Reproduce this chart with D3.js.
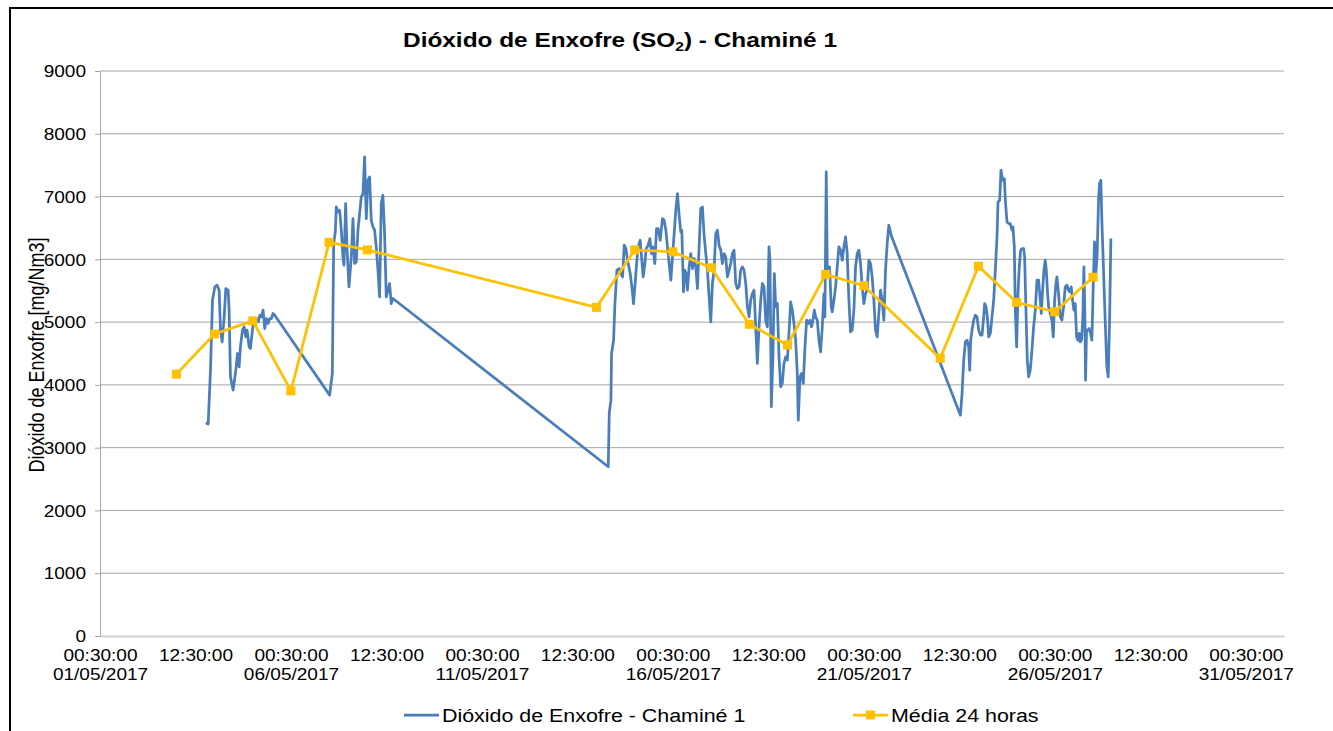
<!DOCTYPE html>
<html>
<head>
<meta charset="utf-8">
<script src="https://cdn.jsdelivr.net/npm/d3@7"></script>
<style>
	html, body { margin: 0; padding: 0; background: #fff; }
	svg { display: block; font-family: "Liberation Sans", Arial, sans-serif; }
</style>
</head>
<body>
<svg id="chart" width="1333" height="731"></svg>
<script>

// Hourly SO2 readings: [days after 01/05/2017 00:30, mg/Nm3]
var so2Readings = [
	[2.771,3396],[2.832,3375],[2.893,4235],[2.945,5349],[3.007,5561],[3.067,5588],[3.120,5508],[3.155,4872],
	[3.198,4686],[3.251,5084],[3.294,5535],[3.355,5508],[3.381,5190],[3.416,4129],[3.486,3916],[3.556,4235],
	[3.599,4500],[3.643,4288],[3.677,4606],[3.730,4872],[3.774,4925],[3.817,4766],[3.852,4872],[3.904,4606],
	[3.939,4580],[3.991,4872],[4.026,5031],[4.096,5057],[4.148,5004],[4.183,5110],[4.226,5084],[4.270,5190],
	[4.314,4898],[4.357,5057],[4.401,4977],[4.444,5057],[4.488,5057],[4.532,5137],[4.575,5110],

	[6.013,3837],[6.083,4182],[6.118,6251],[6.161,6437],[6.187,6835],[6.231,6755],[6.275,6782],[6.318,6464],
	[6.362,6039],[6.388,5906],[6.431,6888],[6.466,6198],[6.519,5561],[6.580,6039],[6.623,6649],[6.667,5933],
	[6.710,5959],[6.754,6464],[6.797,6729],[6.841,6994],[6.885,7047],[6.928,7631],[6.972,6649],[7.015,7260],
	[7.059,7313],[7.102,6623],[7.146,6517],[7.190,6464],[7.233,6198],[7.277,5827],[7.320,5402],[7.364,6888],
	[7.407,7021],[7.451,6411],[7.495,5402],[7.538,5508],[7.582,5615],[7.625,5296],[7.669,5376],

	[13.307,2696],[13.333,3545],[13.377,3757],[13.394,4500],[13.447,4712],[13.482,5296],[13.534,5827],[13.595,5853],
	[13.638,5774],[13.682,5720],[13.725,6225],[13.769,6172],[13.812,5986],[13.882,5774],[13.926,5561],[13.969,5296],
	[14.004,5561],[14.057,5986],[14.092,6198],[14.144,6304],[14.179,6039],[14.222,5720],[14.266,5933],[14.301,6172],
	[14.353,6225],[14.397,6331],[14.440,6092],[14.475,6198],[14.527,5933],[14.571,6490],[14.614,6490],[14.667,6304],
	[14.727,6649],[14.771,6623],[14.815,6464],[14.858,6198],[14.902,5933],[14.946,5668],[14.989,6039],[15.033,6411],
	[15.076,6782],[15.120,7047],[15.163,6702],[15.207,6437],[15.233,6464],[15.277,5482],[15.311,5827],[15.346,5774],
	[15.381,5508],[15.425,5880],[15.468,6092],[15.512,5853],[15.556,6013],[15.599,5880],[15.643,5535],[15.686,6198],
	[15.730,6809],[15.773,6835],[15.817,6384],[15.861,6092],[15.904,5827],[15.948,5402],[15.991,5004],[16.035,5615],
	[16.078,5827],[16.122,6411],[16.166,6464],[16.209,6225],[16.253,6145],[16.296,5933],[16.340,6092],[16.383,6039],
	[16.427,5720],[16.471,5827],[16.514,5933],[16.558,6092],[16.601,6145],[16.645,5615],[16.689,5535],[16.732,5561],
	[16.776,5827],[16.820,5880],[16.863,5827],[16.907,5615],[16.950,5243],[16.994,5084],[17.037,5349],[17.081,5455],
	[17.124,5508],[17.168,4925],[17.211,4341],[17.255,4925],[17.299,5349],[17.342,5615],[17.386,5561],[17.429,5031],
	[17.473,4925],[17.516,6198],[17.542,5986],[17.577,3651],[17.621,4500],[17.656,5774],[17.691,5243],[17.734,5296],
	[17.778,4447],[17.821,3969],[17.865,4023],[17.908,4341],[17.952,4447],[17.996,4394],[18.039,4819],[18.083,5322],
	[18.126,5190],[18.170,4978],[18.214,4712],[18.257,4182],[18.283,3439],[18.327,4129],[18.370,4182],[18.414,4023],
	[18.458,4606],[18.501,5031],[18.545,4978],[18.588,5031],[18.632,4925],[18.667,5031],[18.702,5190],[18.736,5084],
	[18.780,5031],[18.824,4712],[18.867,4527],[18.911,4925],[18.954,5455],[18.980,5084],[19.015,7392],[19.041,5880],
	[19.067,5720],[19.102,5880],[19.146,5243],[19.172,5163],[19.216,5349],[19.259,5561],[19.303,5880],[19.346,6198],
	[19.390,6145],[19.434,5986],[19.477,6198],[19.521,6357],[19.564,6092],[19.608,5349],[19.651,4845],[19.695,4872],
	[19.739,5190],[19.782,5880],[19.826,6092],[19.869,6145],[19.913,5933],[19.956,5561],[20.000,5296],[20.044,5455],
	[20.087,5508],[20.131,5986],[20.174,5933],[20.218,5720],[20.261,5349],[20.305,4872],[20.349,4766],[20.392,5137],
	[20.436,5508],[20.479,5349],[20.523,5031],[20.567,5827],[20.610,6251],[20.654,6543],[20.723,6368],

	[22.527,3518],[22.571,3863],[22.614,4394],[22.658,4686],[22.702,4712],[22.745,4606],[22.771,4235],[22.797,4712],
	[22.832,4872],[22.876,5031],[22.919,5110],[22.963,5084],[23.007,4872],[23.050,4792],[23.094,4792],[23.137,5084],
	[23.163,5296],[23.198,5243],[23.233,5084],[23.268,4766],[23.312,4819],[23.355,5084],[23.399,5349],[23.442,5827],
	[23.486,6357],[23.512,6915],[23.556,6941],[23.590,7419],[23.634,7260],[23.678,7286],[23.704,6941],[23.747,6596],
	[23.791,6570],[23.834,6570],[23.878,6464],[23.904,6517],[23.939,6198],[23.965,5190],[24.000,4606],[24.035,5455],
	[24.069,5880],[24.104,6145],[24.139,6172],[24.183,6172],[24.209,6039],[24.244,5190],[24.279,4394],[24.314,4129],
	[24.357,4235],[24.401,4553],[24.444,4925],[24.488,5190],[24.532,5668],[24.575,5668],[24.619,5349],[24.645,5137],
	[24.680,5508],[24.715,5827],[24.749,5986],[24.776,5827],[24.810,5455],[24.837,5243],[24.880,5137],[24.924,5031],
	[24.959,4766],[24.994,5349],[25.028,5615],[25.054,5720],[25.098,5455],[25.142,5084],[25.185,5031],[25.229,5243],
	[25.272,5561],[25.316,5588],[25.359,5508],[25.386,5482],[25.429,5561],[25.464,5349],[25.499,5190],[25.534,5296],
	[25.569,4766],[25.604,4712],[25.638,4819],[25.665,4686],[25.699,4712],[25.734,5084],[25.760,5880],[25.786,5137],
	[25.804,4076],[25.830,4872],[25.865,4872],[25.900,4898],[25.935,4819],[25.970,4712],[26.004,5561],[26.039,6278],
	[26.074,5774],[26.109,6092],[26.144,6941],[26.170,7206],[26.205,7260],[26.231,6623],[26.275,5827],[26.318,5031],
	[26.362,4288],[26.397,4129],[26.432,4978],[26.467,6331]
];

// 24 hour averages
var avgDates = [
	"03/05/2017", "04/05/2017", "05/05/2017", "06/05/2017", "07/05/2017", "08/05/2017",
	"14/05/2017", "15/05/2017", "16/05/2017", "17/05/2017", "18/05/2017", "19/05/2017", "20/05/2017", "21/05/2017",
	"23/05/2017", "24/05/2017", "25/05/2017", "26/05/2017", "27/05/2017"
];
var avgValues = [
	4171, 4810, 5020, 3905, 6270, 6150,
	5235, 6150, 6120, 5865, 4965, 4635, 5760, 5580,
	4425, 5890, 5315, 5165, 5715
];

var xStart = "01/05/2017 00:30";
var xEnd = "01/06/2017 00:30";
var xTicks = [
	"01/05/2017 00:30", "03/05/2017 12:30", "06/05/2017 00:30", "08/05/2017 12:30",
	"11/05/2017 00:30", "13/05/2017 12:30", "16/05/2017 00:30", "18/05/2017 12:30",
	"21/05/2017 00:30", "23/05/2017 12:30", "26/05/2017 00:30", "28/05/2017 12:30",
	"31/05/2017 00:30"
];
var yTicks = [0, 1000, 2000, 3000, 4000, 5000, 6000, 7000, 8000, 9000];

var seriesNames = ["Dióxido de Enxofre - Chaminé 1", "Média 24 horas"];
var seriesColors = ["#4a7ebb", "#ffc000"];

var parseTime = d3.utcParse("%d/%m/%Y %H:%M");
var parseDay = d3.utcParse("%d/%m/%Y");
var fmtTime = d3.utcFormat("%H:%M:%S");
var fmtDate = d3.utcFormat("%d/%m/%Y");
var t0 = parseTime(xStart);

var margin = { left: 100, right: 1284, top: 71, bottom: 636 };

// the source picture is a bit wider than tall, so text gets the same horizontal stretch
var STRETCH = 1.19;

var svg = d3.select("#chart");

var x = d3.scaleUtc()
	.domain([t0, parseTime(xEnd)])
	.range([margin.left, margin.right]);

var y = d3.scaleLinear()
	.domain([0, 9000])
	.range([margin.bottom, margin.top]);

// put a text at (px, py), stretched horizontally
function label(parent, px, py, extra) {
	return parent.append("text")
		.attr("transform", "translate(" + px + "," + py + ") scale(" + STRETCH + ",1)" + (extra || ""))
		.attr("fill", "#000");
}

// frame (only top and left edges are in view)
svg.append("rect")
	.attr("x", 10).attr("y", 8)
	.attr("width", 1400).attr("height", 800)
	.attr("fill", "none")
	.attr("stroke", "#000")
	.attr("stroke-width", 2);

// title
var title = label(svg, 620, 47)
	.attr("text-anchor", "middle")
	.attr("font-size", 20.5)
	.attr("font-weight", "bold");
title.append("tspan").text("Dióxido de Enxofre (SO");
title.append("tspan").attr("font-size", 13).attr("dy", 4).text("2");
title.append("tspan").attr("dy", -4).text(") - Chaminé 1");

// horizontal gridlines
svg.append("g")
	.selectAll("line")
	.data(yTicks.filter(function(d) { return d > 0; }))
	.join("line")
	.attr("x1", margin.left).attr("x2", margin.right)
	.attr("y1", function(d) { return y(d); })
	.attr("y2", function(d) { return y(d); })
	.attr("stroke", "#a6a6a6")
	.attr("stroke-width", 1);

// y axis
var yAxis = svg.append("g")
	.attr("transform", "translate(" + margin.left + ",0)")
	.call(d3.axisLeft(y).tickValues(yTicks).tickSize(5).tickFormat(""));
yAxis.select(".domain").attr("stroke", "#a6a6a6");
yAxis.selectAll(".tick line").attr("stroke", "#a6a6a6");

yAxis.selectAll(".tick").each(function(d) {
	label(d3.select(this), -14, 5.7)
		.attr("text-anchor", "end")
		.attr("font-size", 16)
		.text(d);
});

// x axis
var xAxis = svg.append("g")
	.attr("transform", "translate(0," + margin.bottom + ")")
	.call(d3.axisBottom(x).tickValues(xTicks.map(parseTime)).tickSize(0).tickFormat(""));
xAxis.select(".domain").attr("stroke", "#d0d0d0").attr("stroke-width", 2);

xAxis.selectAll(".tick").each(function(d, i) {
	var g = d3.select(this);
	label(g, 0, 25).attr("text-anchor", "middle").attr("font-size", 16).text(fmtTime(d));
	if (i % 2 === 0) {
		label(g, 0, 44).attr("text-anchor", "middle").attr("font-size", 16).text(fmtDate(d));
	}
});

// y axis title
label(svg, 44, 355, " rotate(-90)")
	.attr("text-anchor", "middle")
	.attr("font-size", 18)
	.text("Dióxido de Enxofre [mg/Nm3]");

// SO2 line
var so2Line = d3.line()
	.x(function(d) { return x(new Date(t0.getTime() + d[0] * 864e5)); })
	.y(function(d) { return y(d[1]); });

svg.append("path")
	.datum(so2Readings)
	.attr("d", so2Line)
	.attr("fill", "none")
	.attr("stroke", seriesColors[0])
	.attr("stroke-width", 2.75)
	.attr("stroke-linejoin", "round");

// 24h average line with square markers
var avgData = avgDates.map(function(d, i) {
	return { t: d3.utcMinute.offset(parseDay(d), 30), v: avgValues[i] };
});

svg.append("path")
	.datum(avgData)
	.attr("d", d3.line().x(function(d) { return x(d.t); }).y(function(d) { return y(d.v); }))
	.attr("fill", "none")
	.attr("stroke", seriesColors[1])
	.attr("stroke-width", 2.75)
	.attr("stroke-linejoin", "round");

svg.append("g")
	.selectAll("rect")
	.data(avgData)
	.join("rect")
	.attr("x", function(d) { return x(d.t) - 4.5; })
	.attr("y", function(d) { return y(d.v) - 4.5; })
	.attr("width", 9).attr("height", 9)
	.attr("fill", seriesColors[1]);

// legend
var legendX = [404, 853];
var legend = svg.append("g")
	.selectAll("g")
	.data(seriesNames)
	.join("g")
	.attr("transform", function(d, i) { return "translate(" + legendX[i] + ",715)"; });

legend.append("line")
	.attr("x1", 0).attr("x2", 35)
	.attr("stroke", function(d, i) { return seriesColors[i]; })
	.attr("stroke-width", 2.75);

legend.filter(function(d, i) { return i === 1; })
	.append("rect")
	.attr("x", 13).attr("y", -4.5)
	.attr("width", 9).attr("height", 9)
	.attr("fill", seriesColors[1]);

legend.each(function(d) {
	label(d3.select(this), 38, 6.5).attr("font-size", 18).text(d);
});

</script>
</body>
</html>
